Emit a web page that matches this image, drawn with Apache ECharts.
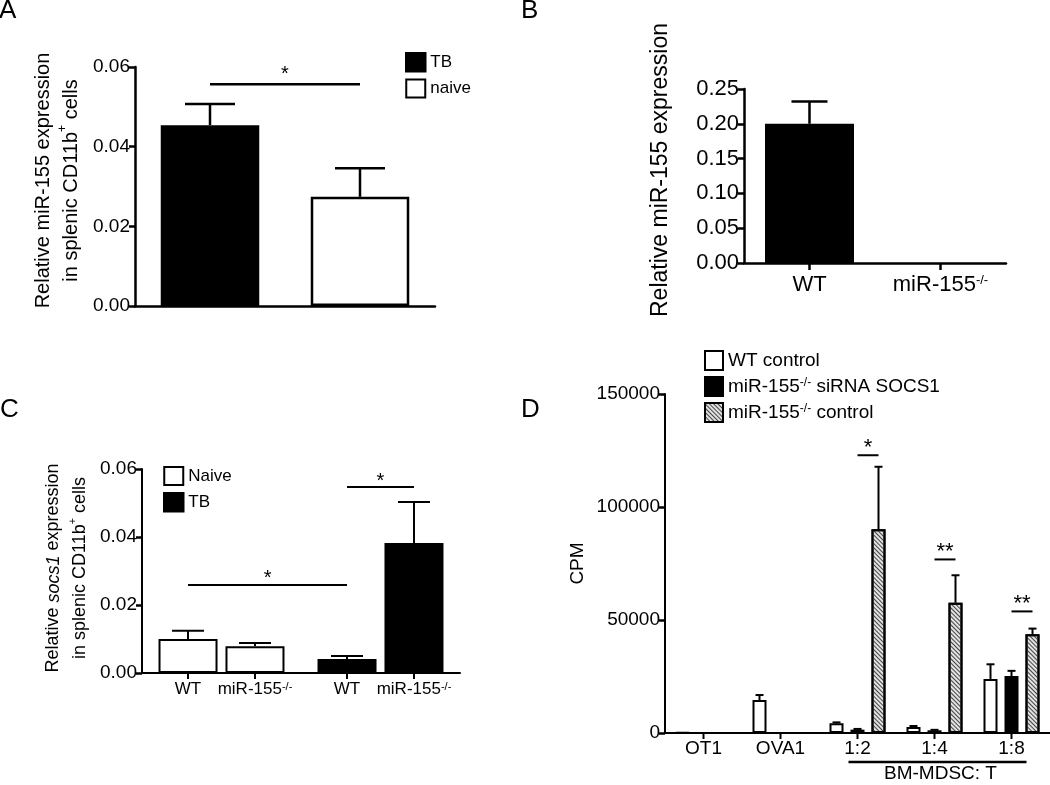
<!DOCTYPE html>
<html>
<head>
<meta charset="utf-8">
<script src="https://cdn.jsdelivr.net/npm/echarts@6/dist/echarts.min.js"></script>
<style>html,body{margin:0;padding:0;background:#fff}#c{width:1050px;height:785px}</style>
</head>
<body>
<div id="c"></div>
<script>
// ---------------- DATA ----------------
// Panel A
const aGroups = ['TB', 'naive'];
const aMeans = [0.0454, 0.0274];
const aErrs = [0.0053, 0.0072];
const aYTicks = [0, 0.02, 0.04, 0.06];
const aSig = [[0, 0, 1, 0, 0.0557, '*']]; // [fromGroup, fromSlot, toGroup, toSlot, level, mark]

// Panel B
const bGroups = ['WT', 'miR-155-/-'];
const bMeans = [0.200, 0];
const bErrs = [0.032, 0];
const bYTicks = [0, 0.05, 0.10, 0.15, 0.20, 0.25];

// Panel C
const cGroups = ['Naive', 'TB'];
const cGenotypes = ['WT', 'miR-155-/-'];
const cNaive = [0.0100, 0.0079];
const cNaiveErr = [0.0024, 0.0009];
const cTB = [0.0041, 0.0382];
const cTBErr = [0.0009, 0.0121];
const cYTicks = [0, 0.02, 0.04, 0.06];
const cSig = [[0, 0, 1, 0, 0.0259, '*'], [1, 0, 1, 1, 0.0547, '*']];

// Panel D
const dCategories = ['OT1', 'OVA1', '1:2', '1:4', '1:8'];
const dSeriesNames = ['WT control', 'miR-155-/- siRNA SOCS1', 'miR-155-/- control'];
const dWT = [300, 14600, 4300, 2700, 23900];
const dWTErr = [0, 2200, 400, 400, 6500];
const dSi = [null, null, 1500, 1200, 25200];
const dSiErr = [0, 0, 300, 200, 2300];
const dCtl = [null, null, 90100, 57600, 43700];
const dCtlErr = [0, 0, 27700, 12200, 2500];
const dYTicks = [0, 50000, 100000, 150000];
const dSig = [[2, 1, 2, 2, 122900, '*'], [3, 1, 3, 2, 76800, '**'], [4, 1, 4, 2, 53800, '**']];
const dBracket = { from: '1:2', to: '1:8', label: 'BM-MDSC: T' };

// ---------------- STYLE ----------------
const FONT = '"Liberation Sans", Arial, Helvetica, sans-serif';
const BLACK = '#000';
const LW = 2.5;
const C_BAR_W = 59, C_GAP = 0.135;
const D_BAR_W = 14, D_GAP = 0.5;
const HATCH = {
  symbol: 'rect', symbolSize: 1, dashArrayX: [1, 0], dashArrayY: [1, 2],
  rotation: Math.PI / 4, color: '#444'
};

function sup(s) { return s.replace('-/-', '{s|-/-}'); }
function supRich(fs) { return { s: { fontSize: fs, fontFamily: FONT, color: BLACK, verticalAlign: 'top' } }; }
const cSlot = k => (k - 0.5) * C_BAR_W * (1 + C_GAP);
const dSlot = k => (k - 1) * D_BAR_W * (1 + D_GAP);
const zeroSlot = () => 0;

function valueAxis(gi, ticks, fs, decimals, name, nameGap, nameStyle) {
  return {
    type: 'value', gridIndex: gi,
    min: ticks[0], max: ticks[ticks.length - 1], interval: ticks[1] - ticks[0],
    axisLine: { show: true, lineStyle: { color: BLACK, width: LW } },
    axisTick: { show: true, inside: false, length: 6, lineStyle: { color: BLACK, width: LW } },
    axisLabel: { color: BLACK, fontSize: fs, fontFamily: FONT, margin: 5,
      formatter: v => decimals == null ? String(Math.round(v)) : v.toFixed(decimals) },
    splitLine: { show: false },
    name: name, nameLocation: 'middle', nameGap: nameGap, nameRotate: 90,
    nameTextStyle: Object.assign({ color: BLACK, fontFamily: FONT }, nameStyle)
  };
}

function catAxis(gi, cats, extra) {
  return Object.assign({
    type: 'category', gridIndex: gi, data: cats,
    axisLine: { show: true, lineStyle: { color: BLACK, width: LW } },
    axisTick: { show: false },
    axisLabel: { show: false },
    splitLine: { show: false }
  }, extra);
}

// category ticks under the x axis, drawn at category centres (plus optional slot offsets)
function catTicks(gi, cats, len, lw) {
  return {
    type: 'custom', xAxisIndex: gi, yAxisIndex: gi, clip: false, silent: true, z: 6,
    encode: { x: 0, y: 1 }, data: cats.map((c, i) => [i, 0]),
    renderItem(params, api) {
      const p = api.coord([api.value(0), 0]);
      return { type: 'line', shape: { x1: p[0], y1: p[1], x2: p[0], y2: p[1] + len },
        style: { stroke: BLACK, lineWidth: lw } };
    }
  };
}

function errorBars(gi, means, errs, offset, cap, lw) {
  const data = [];
  means.forEach((m, i) => { if (m != null && errs[i] > 0) data.push([i, m, m + errs[i]]); });
  return {
    type: 'custom', xAxisIndex: gi, yAxisIndex: gi, z: 5, silent: true, clip: false,
    encode: { x: 0, y: 2 }, data: data,
    renderItem(params, api) {
      const b = api.coord([api.value(0), api.value(1)]);
      const t = api.coord([api.value(0), api.value(2)]);
      const x = b[0] + offset;
      return { type: 'group', children: [
        { type: 'line', shape: { x1: x, y1: b[1], x2: x, y2: t[1] }, style: { stroke: BLACK, lineWidth: lw } },
        { type: 'line', shape: { x1: x - cap, y1: t[1], x2: x + cap, y2: t[1] }, style: { stroke: BLACK, lineWidth: lw } }
      ] };
    }
  };
}

function sigBars(gi, sigs, slotOffset, fs, lw, lift) {
  return {
    type: 'custom', xAxisIndex: gi, yAxisIndex: gi, z: 6, silent: true, clip: false,
    encode: { x: 0, y: 4 }, data: sigs.map(s => s.slice(0, 5)),
    renderItem(params, api) {
      const p1 = api.coord([api.value(0), api.value(4)]);
      const p2 = api.coord([api.value(2), api.value(4)]);
      const x1 = p1[0] + slotOffset(api.value(1));
      const x2 = p2[0] + slotOffset(api.value(3));
      return { type: 'group', children: [
        { type: 'line', shape: { x1: x1, y1: p1[1], x2: x2, y2: p1[1] }, style: { stroke: BLACK, lineWidth: lw } },
        { type: 'text', style: { text: sigs[params.dataIndex][5], x: (x1 + x2) / 2, y: p1[1] + lift,
          align: 'center', verticalAlign: 'bottom', fontSize: fs, fontFamily: FONT, fill: BLACK } }
      ] };
    }
  };
}

const naiveStyle = { color: '#fff', borderColor: BLACK, borderWidth: LW };
const blackStyle = { color: BLACK, borderColor: BLACK, borderWidth: LW };

const series = [];
// Panel A bars
series.push({ type: 'bar', name: 'TB', xAxisIndex: 0, yAxisIndex: 0, barWidth: 98.5, barGap: '-100%',
  data: aGroups.map((g, i) => g === 'TB' ? aMeans[i] : '-'), itemStyle: blackStyle });
series.push({ type: 'bar', name: 'naive', xAxisIndex: 0, yAxisIndex: 0, barWidth: 98.5, barGap: '-100%',
  data: aGroups.map((g, i) => g === 'naive' ? aMeans[i] : '-'), itemStyle: naiveStyle });
series.push(errorBars(0, aMeans, aErrs, 0, 25, LW));
series.push(sigBars(0, aSig, zeroSlot, 20, LW, 0));

// Panel B
series.push({ type: 'bar', name: 'B', xAxisIndex: 1, yAxisIndex: 1, barWidth: 89,
  data: bMeans, itemStyle: { color: BLACK } });
series.push(errorBars(1, bMeans, bErrs, 0, 18, LW));
series.push(catTicks(1, bGroups, 7, LW));

// Panel C (stacks keep one slot per genotype)
cGenotypes.forEach((gt, ti) => {
  series.push({ type: 'bar', name: 'Naive', stack: 's' + ti, xAxisIndex: 2, yAxisIndex: 2,
    barWidth: C_BAR_W, barGap: (C_GAP * 100) + '%', data: [cNaive[ti], '-'],
    itemStyle: { color: '#fff', borderColor: BLACK, borderWidth: 2 } });
});
cGenotypes.forEach((gt, ti) => {
  series.push({ type: 'bar', name: 'TB', stack: 's' + ti, xAxisIndex: 2, yAxisIndex: 2,
    barWidth: C_BAR_W, barGap: (C_GAP * 100) + '%', data: ['-', cTB[ti]],
    itemStyle: { color: BLACK, borderColor: BLACK, borderWidth: 2 } });
});
cGenotypes.forEach((gt, ti) => {
  series.push(errorBars(2, [cNaive[ti], null], [cNaiveErr[ti], 0], cSlot(ti), 16, 2));
  series.push(errorBars(2, [null, cTB[ti]], [0, cTBErr[ti]], cSlot(ti), 16, 2));
});
series.push(sigBars(2, cSig, cSlot, 20, 2, 4));
// Panel C genotype ticks + labels
series.push({
  type: 'custom', xAxisIndex: 2, yAxisIndex: 2, clip: false, silent: true, z: 6,
  encode: { x: 0, y: 2 },
  data: cGroups.flatMap((g, gi) => cGenotypes.map((t, ti) => [gi, ti, 0])),
  renderItem(params, api) {
    const p = api.coord([api.value(0), 0]);
    const x = p[0] + cSlot(api.value(1));
    const label = cGenotypes[api.value(1)];
    return { type: 'group', children: [
      { type: 'line', shape: { x1: x, y1: p[1], x2: x, y2: p[1] + 6 }, style: { stroke: BLACK, lineWidth: 2 } },
      { type: 'text', style: { text: sup(label), rich: supRich(11), x: x, y: p[1] + 8, align: 'center',
        verticalAlign: 'top', fontSize: 17, fontFamily: FONT, fill: BLACK } }
    ] };
  }
});

// Panel D
const dData = [dWT, dSi, dCtl];
const dErr = [dWTErr, dSiErr, dCtlErr];
const dStyles = [
  { color: '#fff', borderColor: BLACK, borderWidth: 2 },
  { color: BLACK, borderColor: BLACK, borderWidth: 2 },
  { color: '#e2e2e2', borderColor: BLACK, borderWidth: 2, decal: HATCH }
];
dSeriesNames.forEach((n, k) => {
  series.push({ type: 'bar', name: n, xAxisIndex: 3, yAxisIndex: 3, barWidth: D_BAR_W,
    barGap: (D_GAP * 100) + '%', data: dData[k].map(v => v == null ? '-' : v), itemStyle: dStyles[k] });
});
dSeriesNames.forEach((n, k) => {
  series.push(errorBars(3, dData[k], dErr[k], dSlot(k), 4, 2));
});
series.push(sigBars(3, dSig, dSlot, 22, 2, 4));
series.push(catTicks(3, dCategories, 6, 2));
series.push({
  type: 'custom', xAxisIndex: 3, yAxisIndex: 3, clip: false, silent: true, z: 6,
  encode: { x: 0, y: 2 },
  data: [[dCategories.indexOf(dBracket.from), dCategories.indexOf(dBracket.to), 0]],
  renderItem(params, api) {
    const p1 = api.coord([api.value(0), 0]);
    const p2 = api.coord([api.value(1), 0]);
    const x1 = p1[0] - 9, x2 = p2[0] + 15, y = p1[1] + 29;
    return { type: 'group', children: [
      { type: 'line', shape: { x1: x1, y1: y, x2: x2, y2: y }, style: { stroke: BLACK, lineWidth: 2.5 } },
      { type: 'text', style: { text: dBracket.label, x: (x1 + x2) / 2 + 3, y: y + 2, align: 'center',
        verticalAlign: 'top', fontSize: 19, fontFamily: FONT, fill: BLACK } }
    ] };
  }
});

const titleStyle = { fontSize: 26, fontWeight: 'normal', fontFamily: FONT, color: BLACK };
const legendBase = {
  orient: 'vertical', icon: 'rect', selectedMode: false, padding: 0,
  textStyle: { fontSize: 17, fontFamily: FONT, color: BLACK }
};

const option = {
  animation: false,
  backgroundColor: '#fff',
  title: [
    { text: 'A', left: -1, top: -2, padding: 0, textStyle: titleStyle },
    { text: 'B', left: 521, top: -2, padding: 0, textStyle: titleStyle },
    { text: 'C', left: 0, top: 397, padding: 0, textStyle: titleStyle },
    { text: 'D', left: 521, top: 397, padding: 0, textStyle: titleStyle }
  ],
  legend: [
    Object.assign({}, legendBase, { left: 405, top: 52, itemWidth: 19, itemHeight: 18, itemGap: 6,
      data: [{ name: 'TB', itemStyle: blackStyle }, { name: 'naive', itemStyle: { color: '#fff', borderColor: BLACK, borderWidth: 2 } }] }),
    Object.assign({}, legendBase, { left: 163, top: 466, itemWidth: 19, itemHeight: 18, itemGap: 6,
      data: [{ name: 'Naive', itemStyle: { color: '#fff', borderColor: BLACK, borderWidth: 2 } }, { name: 'TB', itemStyle: blackStyle }] }),
    Object.assign({}, legendBase, { left: 704, top: 350, itemWidth: 18, itemHeight: 19, itemGap: 5,
      formatter: sup,
      textStyle: { fontSize: 19, fontFamily: FONT, color: BLACK, rich: supRich(12) },
      data: dSeriesNames.map((n, k) => ({ name: n, itemStyle: dStyles[k] })) })
  ],
  grid: [
    { left: 135, top: 67, width: 300, height: 239, containLabel: false, outerBoundsMode: 'none' },
    { left: 744, top: 89, width: 262, height: 174, containLabel: false, outerBoundsMode: 'none' },
    { left: 142, top: 469, width: 318, height: 204, containLabel: false, outerBoundsMode: 'none' },
    { left: 665, top: 394, width: 385, height: 339, containLabel: false, outerBoundsMode: 'none' }
  ],
  xAxis: [
    catAxis(0, aGroups),
    catAxis(1, bGroups, {
      axisLabel: { show: true, interval: 0, hideOverlap: false, color: BLACK, fontSize: 22, fontFamily: FONT, margin: 11,
        formatter: sup, rich: supRich(13) }
    }),
    catAxis(2, cGroups, { axisLine: { show: true, lineStyle: { color: BLACK, width: 2 } } }),
    catAxis(3, dCategories, {
      axisLine: { show: true, lineStyle: { color: BLACK, width: 2 } },
      axisLabel: { show: true, interval: 0, hideOverlap: false, color: BLACK, fontSize: 19, fontFamily: FONT, margin: 6 }
    })
  ],
  yAxis: [
    valueAxis(0, aYTicks, 19, 2, 'Relative miR-155 expression\nin splenic CD11b{s|+} cells', 50,
      { fontSize: 20, lineHeight: 28, padding: [0, 0, 0, 12],
        rich: { s: { fontSize: 12, fontFamily: FONT, color: BLACK, verticalAlign: 'top' } } }),
    valueAxis(1, bYTicks, 22, 2, 'Relative miR-155 expression', 72, { fontSize: 23, padding: [0, 0, 0, 12] }),
    Object.assign(valueAxis(2, cYTicks, 19, 2, 'Relative {i|socs1} expression\nin splenic CD11b{s|+} cells', 48,
      { fontSize: 18, lineHeight: 27, padding: [0, 0, 0, 6], rich: {
        i: { fontSize: 18, fontStyle: 'italic', fontFamily: FONT, color: BLACK },
        s: { fontSize: 11, fontFamily: FONT, color: BLACK, verticalAlign: 'top' } } }),
      { axisLine: { show: true, lineStyle: { color: BLACK, width: 2 } } }),
    Object.assign(valueAxis(3, dYTicks, 19, null, 'CPM', 78, { fontSize: 19 }),
      { axisLine: { show: true, lineStyle: { color: BLACK, width: 2 } } })
  ],
  series: series
};

const chart = echarts.init(document.getElementById('c'), null, { renderer: 'canvas' });
chart.setOption(option);
</script>
</body>
</html>
